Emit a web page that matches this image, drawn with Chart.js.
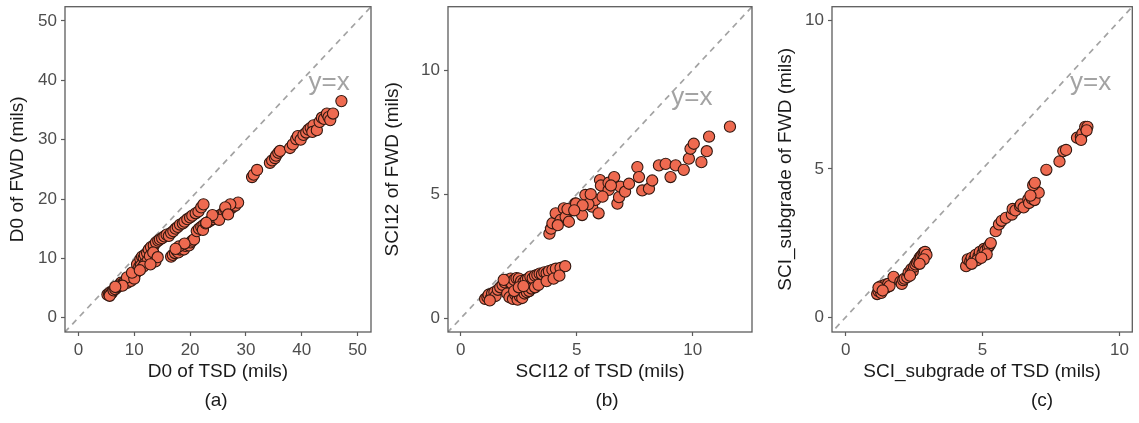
<!DOCTYPE html>
<html>
<head>
<meta charset="utf-8">
<title>TSD vs FWD deflections</title>
<script src="https://cdn.jsdelivr.net/npm/chart.js@4.4.1/dist/chart.umd.min.js"></script>
<style>
  body { margin: 0; background: #fff; width: 1139px; height: 423px; position: relative; overflow: hidden;
         font-family: "Liberation Sans", Arial, sans-serif; }
  .panel { position: absolute; top: 0; }
  .tag { position: absolute; top: 389px; font-size: 19px; color: #1a1a1a; transform: translateX(-50%); }
</style>
</head>
<body>
<div class="panel" style="left:0px"><canvas id="chart-a" width="380" height="392"></canvas></div>
<div class="panel" style="left:380px"><canvas id="chart-b" width="380" height="392"></canvas></div>
<div class="panel" style="left:760px"><canvas id="chart-c" width="379" height="392"></canvas></div>
<div class="tag" style="left:216px">(a)</div>
<div class="tag" style="left:607px">(b)</div>
<div class="tag" style="left:1042px">(c)</div>

<script>
// ============================================================
// DATA (mils)
// ============================================================

// (a) D0
const tsdD0 = [
  5.2, 5.5, 5.7, 5.9, 6.1, 5.6, 6.3, 6.6, 6.9, 7.2, 7.6, 7.4, 8.0, 8.3, 8.6, 8.8, 9.0, 9.3, 9.6, 9.9, 9.4, 8.7, 10.2, 10.0, 7.9, 6.6, 9.6,
  10.5, 10.9, 11.1, 11.4, 11.2, 11.7, 12.0, 11.9, 12.3, 12.6, 12.4, 13.0, 13.2, 13.5, 13.9, 14.3, 14.6, 15.0, 15.4, 15.8, 16.2, 16.6,
  17.0, 17.4, 17.8, 18.2, 18.7, 19.0, 19.5, 20.0, 20.4, 21.0, 21.5, 22.0, 22.4, 11.6, 12.8, 13.4, 11.0, 13.8, 14.2, 12.9,
  16.6, 16.9, 17.3, 17.6, 17.9, 18.2, 18.6, 18.9, 19.2, 19.5, 19.8, 20.1, 20.4, 20.7, 18.0, 19.0, 17.4,
  21.2, 21.6, 22.0, 22.4, 22.3, 22.8, 23.2, 23.7, 24.1, 24.5, 24.9, 25.3, 25.7, 26.1, 26.5, 26.9, 27.3, 27.7, 28.1, 28.6, 27.2, 26.3, 25.2, 24.0, 22.9, 26.8,
  31.1, 31.4, 32.0, 34.3, 34.7, 35.2, 35.4, 35.8, 36.1,
  37.9, 38.4, 39.0, 39.3, 39.8, 40.3, 40.8, 41.2, 41.6, 42.1, 41.9, 42.7, 43.2, 43.6, 44.0, 44.5, 44.8, 45.1, 45.6, 47.1
];
const fwdD0 = [
  3.9, 4.0, 4.3, 4.1, 4.4, 3.7, 4.6, 4.8, 5.1, 5.3, 5.9, 5.5, 5.8, 6.1, 6.2, 5.9, 6.4, 6.7, 6.9, 7.2, 6.2, 6.8, 7.4, 6.6, 5.4, 5.2, 7.6,
  9.0, 8.6, 9.9, 10.3, 8.8, 10.1, 9.3, 10.6, 10.9, 11.5, 9.6, 11.9, 10.1, 12.2, 12.7, 13.0, 13.2, 13.4, 13.7, 14.0, 13.8, 14.3,
  14.6, 15.0, 15.3, 15.7, 15.9, 16.2, 16.6, 16.9, 17.2, 17.6, 17.9, 18.6, 19.1, 8.6, 10.4, 11.0, 8.0, 9.5, 10.2, 9.0,
  10.3, 10.6, 10.9, 11.3, 11.0, 11.5, 11.8, 11.5, 12.1, 12.4, 12.2, 12.7, 13.0, 13.2, 12.0, 12.5, 11.6,
  14.6, 15.0, 15.3, 15.6, 14.8, 15.9, 16.1, 16.4, 16.6, 16.9, 17.1, 17.0, 17.5, 17.7, 18.0, 18.2, 18.4, 18.7, 18.9, 19.4, 19.1, 18.6, 16.5, 17.3, 16.0, 17.4,
  23.7, 24.1, 24.9, 26.1, 26.5, 26.9, 27.3, 27.8, 28.1,
  28.6, 29.2, 30.1, 30.6, 30.0, 30.8, 31.2, 31.7, 32.0, 32.4, 31.3, 31.6, 33.0, 33.7, 33.5, 34.4, 33.8, 33.3, 34.4, 36.5
];

// (b) SCI12
const tsdSci12 = [
  1.05, 1.15, 1.2, 1.3, 1.35, 1.45, 1.5, 1.25, 1.6, 1.7, 1.8, 1.9, 1.95, 2.05, 2.15, 2.2, 2.3, 2.4, 2.5, 2.6, 2.7, 2.8, 2.9, 3.0,
  3.1, 3.2, 3.3, 3.4, 3.5, 3.6, 3.7, 3.8, 3.95, 4.1, 4.3, 4.5,
  2.0, 2.1, 2.25, 2.35, 2.45, 2.55, 2.65, 2.75, 2.85, 2.95, 3.05, 3.2, 3.35, 2.3, 2.5, 2.7, 3.7, 4.0, 4.25, 1.85,
  3.82, 3.89, 3.95, 4.09, 4.3, 4.44, 4.52, 4.66, 4.8, 4.94, 5.09, 5.23, 5.37, 5.66, 5.8, 5.94, 6.0, 6.04, 6.37, 6.37,
  6.61, 6.75, 6.82, 6.87, 7.08, 7.25, 7.61, 7.68, 7.82, 8.11, 8.25, 8.54, 8.83, 9.04, 9.26, 9.61, 9.83, 9.9, 10.04,
  10.37, 10.6, 10.7, 11.6, 4.18, 4.6, 4.97, 5.5, 5.6, 6.11, 6.47, 5.25, 4.89
];
const fwdSci12 = [
  0.78, 0.85, 0.95, 0.82, 1.0, 1.05, 0.9, 0.72, 1.15, 1.25, 1.35, 1.45, 1.55, 1.5, 1.6, 1.4, 1.55, 1.62, 1.6, 1.5, 1.45, 1.55, 1.6, 1.68,
  1.62, 1.72, 1.75, 1.8, 1.78, 1.85, 1.82, 1.9, 1.95, 2.0, 2.03, 2.1,
  1.0, 0.85, 0.78, 0.95, 0.75, 0.88, 0.82, 1.0, 1.05, 1.1, 1.2, 1.25, 1.35, 1.1, 1.25, 1.3, 1.5, 1.6, 1.72, 1.55,
  3.41, 3.61, 3.83, 4.23, 3.96, 4.43, 4.09, 3.89, 4.36, 4.63, 4.5, 4.16, 4.97, 4.5, 4.77, 4.23, 5.57, 5.35, 5.17, 5.46,
  5.69, 4.62, 4.88, 5.3, 5.1, 5.42, 6.09, 5.69, 5.15, 5.22, 5.55, 6.16, 6.22, 5.69, 6.16, 5.98, 6.43, 6.83, 7.03,
  6.29, 6.73, 7.32, 7.72, 3.75, 4.4, 4.62, 4.6, 5.0, 4.9, 5.35, 4.55, 4.35
];

// (c) SCI_subgrade
const tsdSciSub = [
  1.15, 1.2, 1.25, 1.3, 1.3, 1.4, 1.45, 1.5, 1.55, 1.2, 1.6, 1.75, 2.0, 2.05, 2.1, 2.15, 2.25, 2.3, 2.4, 2.45, 2.5, 2.55, 2.6, 2.65,
  2.7, 2.75, 2.8, 2.85, 2.9, 2.95, 2.85, 2.7, 2.35, 1.35,
  4.4, 4.46, 4.55, 4.6, 4.7, 4.75, 4.85, 4.9, 5.0, 5.05, 5.1, 5.2, 5.25, 5.3, 4.8, 4.6, 5.15, 4.95,
  5.48, 5.6, 5.7, 5.85, 6.07, 6.1, 6.2, 6.37, 6.4, 6.5, 6.67, 6.7, 6.8, 6.9, 6.97, 7.05, 6.85, 6.91, 6.75,
  7.33, 7.81, 7.95, 8.05, 8.45, 8.59, 8.65, 8.75, 8.83, 8.6, 8.8
];
const fwdSciSub = [
  0.78, 0.88, 0.95, 0.82, 1.05, 0.98, 1.1, 1.0, 1.12, 1.0, 1.05, 1.36, 1.2, 1.12, 1.25, 1.3, 1.35, 1.5, 1.62, 1.55, 1.7, 1.78, 1.85, 1.9,
  2.0, 2.05, 2.1, 2.18, 2.2, 2.1, 1.95, 1.8, 1.4, 0.9,
  1.72, 1.95, 1.88, 2.0, 1.95, 2.1, 2.05, 2.2, 2.15, 2.3, 2.25, 2.35, 2.42, 2.5, 1.92, 1.8, 2.12, 2.0,
  2.9, 3.13, 3.25, 3.35, 3.46, 3.65, 3.6, 3.74, 3.8, 3.7, 3.97, 3.85, 4.0, 3.95, 4.24, 4.2, 4.45, 4.53, 4.1,
  4.97, 5.25, 5.6, 5.64, 6.05, 6.09, 6.2, 6.42, 6.42, 5.98, 6.3
];

// Axis ranges, ticks and y=x label anchors (data units)
const rangeA = [-2.4, 52.4];
const rangeB = [-0.55, 12.55];
const rangeC = [-0.5, 10.47];
const ticksA = [0, 10, 20, 30, 40, 50];
const ticksB = [0, 5, 10];
const ticksC = [0, 5, 10];
const yxAnchorA = [44.9, 39.5];
const yxAnchorB = [9.96, 8.87];
const yxAnchorC = [8.95, 7.9];

// ============================================================
// PLUGINS
// ============================================================

// Panel border (ggplot-like box round the plot area)
const panelFrame = {
  id: "panelFrame",
  afterDraw(chart) {
    const { ctx, chartArea: a } = chart;
    ctx.save();
    ctx.strokeStyle = "#5c5c5c";
    ctx.lineWidth = 1.3;
    ctx.strokeRect(a.left, a.top, a.right - a.left, a.bottom - a.top);
    ctx.restore();
  }
};

// "y=x" annotation
const yxLabel = {
  id: "yxLabel",
  afterDatasetsDraw(chart, args, opts) {
    const { ctx, scales } = chart;
    const px = scales.x.getPixelForValue(opts.at[0]);
    const py = scales.y.getPixelForValue(opts.at[1]);
    ctx.save();
    ctx.font = "26px 'Liberation Sans', Arial, sans-serif";
    ctx.fillStyle = "#a3a3a3";
    ctx.textAlign = "center";
    ctx.textBaseline = "middle";
    ctx.fillText("y=x", px, py);
    ctx.restore();
  }
};

// ============================================================
// BUILD ONE PANEL
// ============================================================

function toPoints(xs, ys) {
  return xs.map((x, i) => ({ x: x, y: ys[i] }));
}

function buildPanel(canvasId, cfg) {
  const axisCommon = {
    type: "linear",
    min: cfg.range[0],
    max: cfg.range[1],
    afterBuildTicks: (s) => { s.ticks = cfg.ticks.map(v => ({ value: v })); },
    grid: { drawOnChartArea: false, drawTicks: true, tickLength: 4, tickColor: "#5c5c5c", tickWidth: 1.2 },
    border: { display: false },
  };

  return new Chart(document.getElementById(canvasId), {
    type: "scatter",
    data: {
      datasets: [
        {
          data: toPoints(cfg.xs, cfg.ys),
          backgroundColor: "rgb(238, 106, 80)",
          borderColor: "#331810",
          borderWidth: 1.1,
          pointRadius: 5.6,
          order: 0,
        },
        {
          type: "line",
          data: toPoints([-20, 60], [-20, 60]),
          borderColor: "#a3a3a3",
          borderWidth: 1.7,
          borderDash: [6, 5],
          pointRadius: 0,
          fill: false,
          order: 1,
        },
      ],
    },
    options: {
      responsive: false,
      animation: false,
      devicePixelRatio: 1,
      layout: { padding: { top: 6, right: cfg.padRight, left: 0, bottom: 0 } },
      plugins: {
        legend: { display: false },
        tooltip: { enabled: false },
        yxLabel: { at: cfg.yxAt },
      },
      scales: {
        x: Object.assign({}, axisCommon, {
          // fixed band height, no extra room for label overhang
          afterFit: (s) => { s.height = 60; s.paddingLeft = 0; s.paddingRight = 0; },
          ticks: { color: "#4d4d4d", font: { size: 17 }, padding: 4, maxRotation: 0 },
          title: { display: true, text: cfg.xTitle, color: "#1a1a1a", font: { size: 19 }, padding: { top: 0, bottom: 9 } },
        }),
        y: Object.assign({}, axisCommon, {
          afterFit: (s) => { s.width = cfg.yAxisWidth; s.paddingTop = 0; s.paddingBottom = 0; },
          ticks: { color: "#4d4d4d", font: { size: 17 }, padding: cfg.yTickPad },
          title: { display: true, text: cfg.yTitle, color: "#1a1a1a", font: { size: 19 }, padding: { top: cfg.yTitlePad, bottom: 0 } },
        }),
      },
    },
    plugins: [panelFrame, yxLabel],
  });
}

Chart.defaults.font.family = "'Liberation Sans', Arial, sans-serif";

buildPanel("chart-a", {
  xs: tsdD0, ys: fwdD0, range: rangeA, ticks: ticksA, yxAt: yxAnchorA,
  xTitle: "D0 of TSD (mils)", yTitle: "D0 of FWD (mils)",
  yAxisWidth: 65, padRight: 9, yTickPad: 4, yTitlePad: 6,
});

buildPanel("chart-b", {
  xs: tsdSci12, ys: fwdSci12, range: rangeB, ticks: ticksB, yxAt: yxAnchorB,
  xTitle: "SCI12 of TSD (mils)", yTitle: "SCI12 of FWD (mils)",
  yAxisWidth: 68, padRight: 8, yTickPad: 4, yTitlePad: 1,
});

buildPanel("chart-c", {
  xs: tsdSciSub, ys: fwdSciSub, range: rangeC, ticks: ticksC, yxAt: yxAnchorC,
  xTitle: "SCI_subgrade of TSD (mils)", yTitle: "SCI_subgrade of FWD (mils)",
  yAxisWidth: 72, padRight: 2, yTickPad: 4, yTitlePad: 14,
});
</script>
</body>
</html>
